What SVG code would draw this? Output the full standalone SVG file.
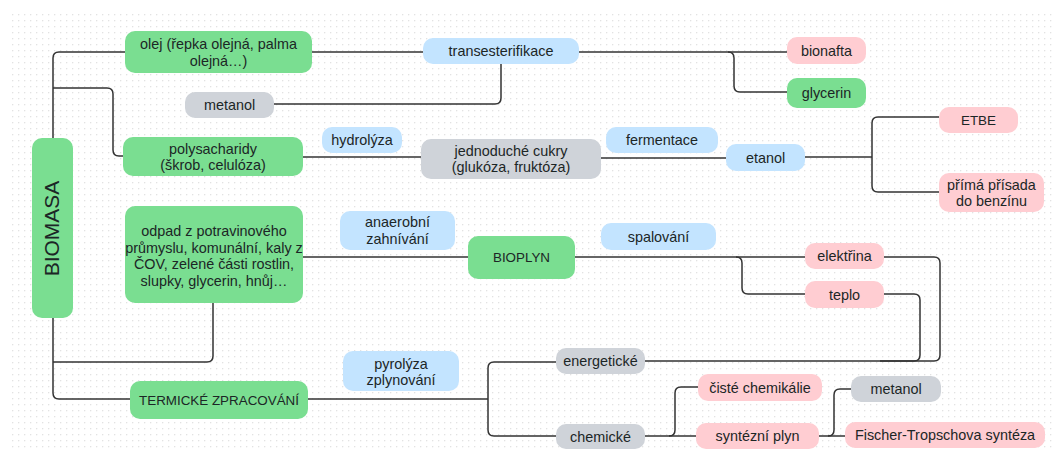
<svg xmlns="http://www.w3.org/2000/svg" width="1054" height="454" viewBox="0 0 1054 454">
<defs>
<pattern id="dots" x="12" y="14" width="6" height="6" patternUnits="userSpaceOnUse">
<rect x="0" y="0" width="1.3" height="1.3" fill="#e2e2e2"/>
</pattern>
<style>
.c{fill:none;stroke:#333;stroke-width:1.5;stroke-linejoin:round}
.g{fill:#7ade91}
.p{fill:#ffcdd2}
.b{fill:#c3e4ff}
.s{fill:#cfd3d9}
text{font-family:"Liberation Sans",Arial,sans-serif;font-size:14.4px;fill:#1c2626;text-anchor:middle;dominant-baseline:central}
.cap{font-size:13.4px}
</style>
</defs>
<rect width="1054" height="454" fill="#fff"/>
<rect x="10" y="12" width="1042" height="436" fill="url(#dots)"/>
<g id="connectors">
<path class="c" d="M125,52 H59 Q53,52 53,58 V393 Q53,399 59,399 H130"/>
<path class="c" d="M53,88 H107 Q113,88 113,94 V150 Q113,156 119,156 H123"/>
<path class="c" d="M213,303 V356 Q213,362 207,362 H53"/>
<path class="c" d="M312,52 H423"/>
<path class="c" d="M501,64 V98 Q501,104 495,104 H274"/>
<path class="c" d="M579,52 H787"/>
<path class="c" d="M728,52 Q734,52 734,58 V86 Q734,92 740,92 H787"/>
<path class="c" d="M303,157 H421"/>
<path class="c" d="M601,158 H726"/>
<path class="c" d="M805,157 H872"/>
<path class="c" d="M939,117 H878 Q872,117 872,123 V186 Q872,192 878,192 H939"/>
<path class="c" d="M303,257 H468"/>
<path class="c" d="M575,257 H805"/>
<path class="c" d="M736,257 Q742,257 742,263 V288 Q742,294 748,294 H805"/>
<path class="c" d="M884,257 H934 Q940,257 940,263 V355 Q940,361 934,361 H645"/>
<path class="c" d="M884,294 H914 Q920,294 920,300 V355 Q920,361 914,361 H880"/>
<path class="c" d="M308,399 H488"/>
<path class="c" d="M556,362 H494 Q488,362 488,368 V430 Q488,436 494,436 H556"/>
<path class="c" d="M645,436 H696"/>
<path class="c" d="M698,387 H681 Q675,387 675,393 V430 Q675,436 669,436"/>
<path class="c" d="M819,436 H845"/>
<path class="c" d="M851,389 H840 Q834,389 834,395 V430 Q834,436 828,436"/>
</g>
<g id="biomasa"><rect class="g" x="32" y="138" width="41" height="180" rx="10"/><text transform="translate(51,228.5) rotate(-90)" style="font-size:21px">BIOMASA</text></g>
<g id="olej"><rect class="g" x="125" y="31" width="187" height="42" rx="10"/><text x="218.5" y="44">olej (řepka olejná, palma</text><text x="218.5" y="61">olejná…)</text></g>
<g id="metanol1"><rect class="s" x="185" y="92" width="89" height="26" rx="10"/><text x="229.5" y="105">metanol</text></g>
<g id="transesterifikace"><rect class="b" x="423" y="38" width="156" height="26" rx="10"/><text x="501" y="51">transesterifikace</text></g>
<g id="bionafta"><rect class="p" x="787" y="37" width="79" height="27" rx="10"/><text x="826.5" y="50.5">bionafta</text></g>
<g id="glycerin"><rect class="g" x="787" y="78" width="79" height="30" rx="10"/><text x="826.5" y="93">glycerin</text></g>
<g id="hydrolyza"><rect class="b" x="322" y="127" width="80" height="26" rx="10"/><text x="362" y="140">hydrolýza</text></g>
<g id="polysacharidy"><rect class="g" x="123" y="137" width="180" height="39" rx="10"/><text x="213" y="148.5">polysacharidy</text><text x="213" y="165">(škrob, celulóza)</text></g>
<g id="cukry"><rect class="s" x="421" y="139" width="180" height="40" rx="10"/><text x="511" y="151">jednoduché cukry</text><text x="511" y="167">(glukóza, fruktóza)</text></g>
<g id="fermentace"><rect class="b" x="606" y="127" width="112" height="26" rx="10"/><text x="662" y="140">fermentace</text></g>
<g id="etanol"><rect class="b" x="726" y="144" width="79" height="27" rx="10"/><text x="765.5" y="157.5">etanol</text></g>
<g id="etbe"><rect class="p" x="939" y="107" width="79" height="26" rx="10"/><text x="978.5" y="120" class="cap">ETBE</text></g>
<g id="prima"><rect class="p" x="939" y="173" width="105" height="39" rx="10"/><text x="991.5" y="184.5">přímá přísada</text><text x="991.5" y="201">do benzínu</text></g>
<g id="odpad"><rect class="g" x="125" y="206" width="178" height="97" rx="10"/><text x="214" y="231">odpad z potravinového</text><text x="214" y="247.5">průmyslu, komunální, kaly z</text><text x="214" y="264">ČOV, zelené části rostlin,</text><text x="214" y="280.5">slupky, glycerin, hnůj…</text></g>
<g id="anaerobni"><rect class="b" x="340" y="211" width="115" height="39" rx="10"/><text x="397.5" y="222">anaerobní</text><text x="397.5" y="238.5">zahnívání</text></g>
<g id="bioplyn"><rect class="g" x="468" y="236" width="107" height="43" rx="10"/><text x="521.5" y="257.5" class="cap">BIOPLYN</text></g>
<g id="spalovani"><rect class="b" x="601" y="223" width="115" height="27" rx="10"/><text x="658.5" y="236.5">spalování</text></g>
<g id="elektrina"><rect class="p" x="805" y="243" width="79" height="26" rx="10"/><text x="844.5" y="256">elektřina</text></g>
<g id="teplo"><rect class="p" x="805" y="281" width="79" height="27" rx="10"/><text x="844.5" y="294.5">teplo</text></g>
<g id="pyrolyza"><rect class="b" x="343" y="351" width="116" height="40" rx="10"/><text x="401" y="363.5">pyrolýza</text><text x="401" y="380">zplynování</text></g>
<g id="termicke"><rect class="g" x="130" y="381" width="178" height="38" rx="10"/><text x="219" y="400" class="cap">TERMICKÉ ZPRACOVÁNÍ</text></g>
<g id="energeticke"><rect class="s" x="556" y="348" width="89" height="26" rx="10"/><text x="600.5" y="361">energetické</text></g>
<g id="chemicke"><rect class="s" x="556" y="424" width="89" height="25" rx="10"/><text x="600.5" y="436.5">chemické</text></g>
<g id="ciste"><rect class="p" x="698" y="374" width="124" height="27" rx="10"/><text x="760" y="387.5">čisté chemikálie</text></g>
<g id="syntezni"><rect class="p" x="696" y="423" width="123" height="26" rx="10"/><text x="757.5" y="436">syntézní plyn</text></g>
<g id="metanol2"><rect class="s" x="851" y="376" width="90" height="26" rx="10"/><text x="896" y="389">metanol</text></g>
<g id="fischer"><rect class="p" x="845" y="422" width="200" height="26" rx="10"/><text x="945" y="435">Fischer-Tropschova syntéza</text></g>
</svg>
